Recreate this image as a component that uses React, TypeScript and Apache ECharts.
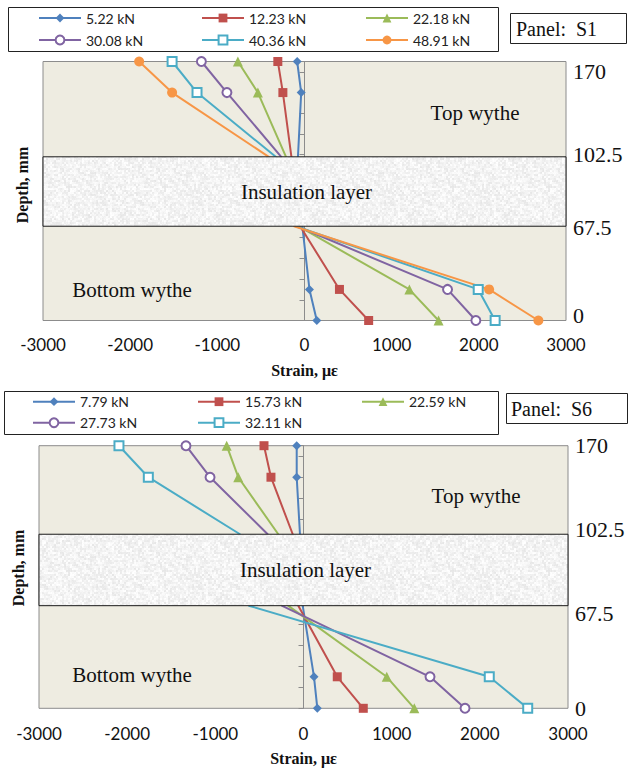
import React, { useEffect, useRef } from 'react';
import * as echarts from 'echarts';

// Series styling order (Excel 2010 palette)
const COLORS = ['#4F81BD', '#C0504D', '#9BBB59', '#8064A2', '#4BACC6', '#F79646'];
const SYMBOLS = ['diamond', 'rect', 'triangle', 'emptyCircle', 'emptyRect', 'circle'];
const SYMBOL_SIZES = [9, 9, 10, 9, 9, 10];

// Depth tick labels shown on the right of each panel
const depthLabels = ['170', '102.5', '67.5', '0'];

// ---------- Panel S1 ----------
const s1Loads = ['5.22 kN', '12.23 kN', '22.18 kN', '30.08 kN', '40.36 kN', '48.91 kN'];
// plotting positions on the depth axis: gauges at 170 & 150 mm, interfaces, gauges at 20 & 0 mm
const s1Depth = [250, 220, 158, 91, 30, 0];
const s1Gauge = [true, true, false, false, true, true];
const s1Band = [91, 158];
const s1LabelPos = [240, 160, 90, 5];
const s1Strain522 = [-84, -38, -75, -25, 57, 141];
const s1Strain1223 = [-306, -248, -150, -50, 401, 736];
const s1Strain2218 = [-764, -535, -212, -70, 1203, 1538];
const s1Strain3008 = [-1183, -890, -267, -85, 1641, 1966];
const s1Strain4036 = [-1519, -1233, -330, -100, 1993, 2187];
const s1Strain4891 = [-1897, -1519, -410, -120, 2118, 2683];
const s1Strains = [s1Strain522, s1Strain1223, s1Strain2218, s1Strain3008, s1Strain4036, s1Strain4891];

// ---------- Panel S6 ----------
const s6Loads = ['7.79 kN', '15.73 kN', '22.59 kN', '27.73 kN', '32.11 kN'];
const s6Depth = [250, 220, 165.7, 97.7, 30, 0];
const s6Gauge = [true, true, false, false, true, true];
const s6Band = [97.7, 165.7];
const s6LabelPos = [250, 170, 90, 0];
const s6Strain779 = [-77, -77, -40, -9, 119, 157];
const s6Strain1573 = [-448, -369, -122, -59, 383, 678];
const s6Strain2259 = [-871, -740, -286, -175, 944, 1257];
const s6Strain2773 = [-1333, -1060, -406, -247, 1435, 1832];
const s6Strain3211 = [-2093, -1760, -720, -620, 2107, 2543];
const s6Strains = [s6Strain779, s6Strain1573, s6Strain2259, s6Strain2773, s6Strain3211];

const SERIF = 'Liberation Serif';
const SANS = 'Lato';

function makeTexture(): HTMLCanvasElement {
  const size = 96;
  const c = document.createElement('canvas');
  c.width = size;
  c.height = size;
  const ctx = c.getContext('2d')!;
  const img = ctx.createImageData(size, size);
  let s = 987654;
  const next = () => {
    s = (s * 1103515245 + 12345) & 0x7fffffff;
    return s / 0x7fffffff;
  };
  for (let by = 0; by < size; by += 2) {
    for (let bx = 0; bx < size; bx += 2) {
      const g = Math.round(232 + next() * 22);
      for (let dy = 0; dy < 2; dy++) {
        for (let dx = 0; dx < 2; dx++) {
          const k = ((by + dy) * size + (bx + dx)) * 4;
          const v = Math.min(255, g + Math.round((next() - 0.5) * 6));
          img.data[k] = v;
          img.data[k + 1] = v;
          img.data[k + 2] = v;
          img.data[k + 3] = 255;
        }
      }
    }
  }
  ctx.putImageData(img, 0, 0);
  return c;
}

function lineSeries(loads: string[], strains: number[][], depth: number[], gauge: boolean[], g: number) {
  return loads.map((name, i) => ({
    type: 'line',
    name,
    xAxisIndex: g,
    yAxisIndex: g * 2,
    data: strains[i].map((x, j) =>
      gauge[j] ? { value: [x, depth[j]] } : { value: [x, depth[j]], symbol: 'none' }
    ),
    symbol: SYMBOLS[i],
    symbolSize: SYMBOL_SIZES[i],
    showAllSymbol: true,
    color: COLORS[i],
    lineStyle: { width: 2, color: COLORS[i] },
    itemStyle: SYMBOLS[i].startsWith('empty')
      ? { color: COLORS[i], borderWidth: 1.5 }
      : { color: COLORS[i] },
    z: 2,
    clip: false,
    silent: true,
  }));
}

function bandSeries(band: number[], g: number, texture: any) {
  return {
    type: 'custom',
    xAxisIndex: g,
    yAxisIndex: g * 2,
    z: 6,
    silent: true,
    clip: false,
    data: [[-3000, 3000, band[0], band[1]]],
    renderItem: (_params: any, api: any) => {
      const p1 = api.coord([api.value(0), api.value(3)]);
      const p2 = api.coord([api.value(1), api.value(2)]);
      return {
        type: 'group',
        children: [
          {
            type: 'rect',
            shape: { x: p1[0], y: p1[1], width: p2[0] - p1[0], height: p2[1] - p1[1] },
            style: { fill: texture, stroke: '#1a1a1a', lineWidth: 1 },
          },
          {
            type: 'text',
            x: (p1[0] + p2[0]) / 2 + 2,
            y: (p1[1] + p2[1]) / 2,
            style: {
              text: 'Insulation layer',
              fontFamily: SERIF,
              fontSize: 21,
              fill: '#111',
              align: 'center',
              verticalAlign: 'middle',
            },
          },
        ],
      };
    },
  };
}

function legends(loads: string[], lefts: number[], top: number, gap: number) {
  const cols = [[0, 3], [1, 4], [2, 5]];
  return cols.map((idx, c) => ({
    left: lefts[c],
    top,
    orient: 'vertical',
    itemGap: gap,
    itemWidth: 42,
    itemHeight: 11,
    padding: 0,
    selectedMode: false,
    data: idx.filter((i) => i < loads.length).map((i) => loads[i]),
    textStyle: { fontFamily: SANS, fontSize: 14, color: '#222', lineHeight: 14 },
  }));
}

function axes(g: number, labelPos: number[], labelMargin: number) {
  const x = {
    gridIndex: g,
    type: 'value',
    min: -3000,
    max: 3000,
    interval: 1000,
    axisLine: { show: false },
    axisTick: { show: false },
    splitLine: { show: false },
    axisLabel: {
      margin: labelMargin,
      fontFamily: SANS,
      fontSize: 17,
      color: '#111',
      formatter: (v: number) => String(Math.round(v)),
    },
    name: 'Strain, με',
    nameLocation: 'middle',
    nameGap: 42,
    nameTextStyle: { fontFamily: SERIF, fontWeight: 'bold', fontSize: 16, color: '#111' },
  };
  const yTicks = {
    gridIndex: g,
    type: 'value',
    min: 0,
    max: 250,
    interval: 20,
    position: 'left',
    axisLine: { show: true, onZero: true, lineStyle: { color: '#8c8c8c', width: 1 } },
    axisTick: { show: true, length: 5, lineStyle: { color: '#8c8c8c', width: 1 } },
    axisLabel: { show: false },
    splitLine: { show: false },
  };
  const yLabels = {
    gridIndex: g,
    type: 'value',
    min: 0,
    max: 250,
    interval: 5,
    position: 'right',
    axisLine: { show: false, onZero: false },
    axisTick: { show: false },
    splitLine: { show: false },
    axisLabel: {
      margin: 7,
      fontFamily: SERIF,
      fontSize: 22,
      color: '#111',
      formatter: (v: number) => {
        const k = labelPos.findIndex((p) => Math.abs(p - v) < 0.01);
        return k >= 0 ? depthLabels[k] : '';
      },
    },
  };
  return { x, yTicks, yLabels };
}

function serifText(text: string, x: number, y: number, size: number, extra: any = {}) {
  return {
    type: 'text',
    x,
    y,
    z: 10,
    silent: true,
    ...extra,
    style: {
      text,
      fontFamily: SERIF,
      fontSize: size,
      fill: '#111',
      align: 'center',
      verticalAlign: 'middle',
      ...(extra.style || {}),
    },
  };
}

export default function App() {
  const ref = useRef<HTMLDivElement>(null);
  useEffect(() => {
    if (!ref.current) return;
    const chart = echarts.init(ref.current, undefined, { renderer: 'svg' });
    const texture = { image: makeTexture(), repeat: 'repeat' };
    const a1 = axes(0, s1LabelPos, 15);
    const a2 = axes(1, s6LabelPos, 17);
    const gridStyle = {
      show: true,
      backgroundColor: '#EEECE1',
      borderColor: '#8c8c8c',
      borderWidth: 1,
      containLabel: false,
    };
    chart.setOption({
      animation: false,
      grid: [
        { left: 43, top: 61.5, width: 523, height: 259, ...gridStyle },
        { left: 39, top: 445.7, width: 529, height: 262.6, ...gridStyle },
      ],
      xAxis: [a1.x, a2.x],
      yAxis: [a1.yTicks, a1.yLabels, a2.yTicks, a2.yLabels],
      legend: [
        ...legends(s1Loads, [38, 201, 365], 11, 8),
        ...legends(s6Loads, [32, 197, 361], 394.7, 7),
      ],
      series: [
        ...lineSeries(s1Loads, s1Strains, s1Depth, s1Gauge, 0),
        bandSeries(s1Band, 0, texture),
        ...lineSeries(s6Loads, s6Strains, s6Depth, s6Gauge, 1),
        bandSeries(s6Band, 1, texture),
      ],
      graphic: [
        { type: 'rect', silent: true, shape: { x: 8.5, y: 7.5, width: 490, height: 44 }, style: { fill: 'none', stroke: '#222', lineWidth: 1 } },
        { type: 'rect', silent: true, shape: { x: 510.5, y: 13.5, width: 116, height: 30 }, style: { fill: '#fff', stroke: '#222', lineWidth: 1 } },
        serifText('Panel:  S1', 516, 29, 20, { style: { align: 'left' } }),
        { type: 'rect', silent: true, shape: { x: 4.5, y: 391.5, width: 494, height: 43 }, style: { fill: 'none', stroke: '#222', lineWidth: 1 } },
        { type: 'rect', silent: true, shape: { x: 506.5, y: 393.5, width: 121, height: 30 }, style: { fill: '#fff', stroke: '#222', lineWidth: 1 } },
        serifText('Panel:  S6', 511, 409, 20, { style: { align: 'left' } }),
        serifText('Top wythe', 475, 113, 21),
        serifText('Bottom wythe', 132, 290, 21),
        serifText('Top wythe', 476, 496, 21),
        serifText('Bottom wythe', 132, 675, 21),
        serifText('Depth, mm', 22, 185, 16, { rotation: Math.PI / 2, style: { fontWeight: 'bold' } }),
        serifText('Depth, mm', 18, 568, 16, { rotation: Math.PI / 2, style: { fontWeight: 'bold' } }),
      ],
    });
    return () => chart.dispose();
  }, []);
  return (
    <div
      ref={ref}
      style={{ position: 'absolute', left: 0, top: 0, width: 629, height: 768, background: '#fff' }}
    />
  );
}
